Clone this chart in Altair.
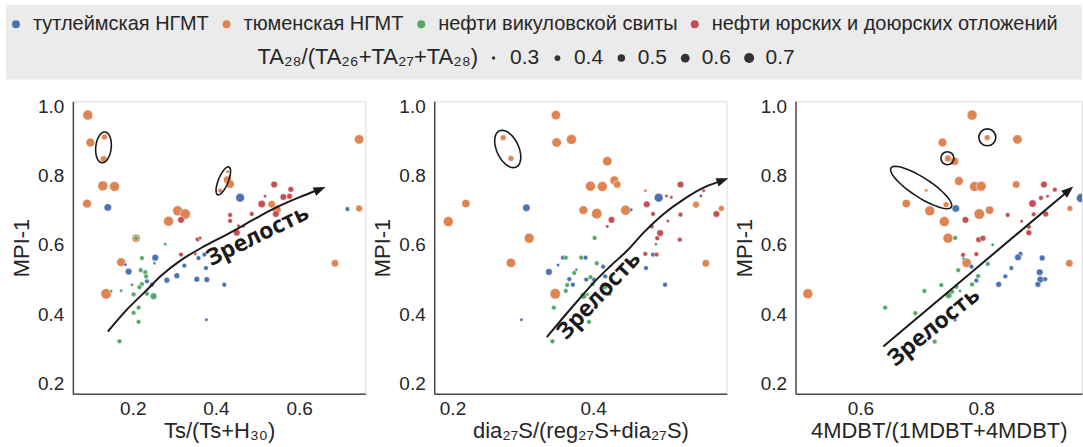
import numpy as np
import pandas as pd
import altair as alt

GROUPS = ["тутлеймская НГМТ", "тюменская НГМТ", "нефти викуловской свиты",
          "нефти юрских и доюрских отложений"]
COLORS = ["#4C72B0", "#DD8452", "#55A868", "#C44E52"]
SIZE_TICKS = [0.3, 0.4, 0.5, 0.6, 0.7]
Y_TICKS = [0.2, 0.4, 0.6, 0.8, 1.0]
SIZE_TITLE = "TA₂₈/(TA₂₆+TA₂₇+TA₂₈)"
Y_TITLE = "MPI-1"
X_TITLES = ["Ts/(Ts+H₃₀)", "dia₂₇S/(reg₂₇S+dia₂₇S)", "4MDBT/(1MDBT+4MDBT)"]
X_TICKS = [[0.2, 0.4, 0.6], [0.2, 0.4], [0.6, 0.8]]
ARROW_TEXT = "Зрелость"

# ---- panel 1: Ts/(Ts+H30)  (x, MPI-1, TA28 ratio)
P1_TYUM = [(0.092, 0.974, 0.7), (0.098, 0.895, 0.6), (0.132, 0.911, 0.4), (0.130, 0.847, 0.45),
           (0.090, 0.719, 0.6), (0.128, 0.770, 0.7), (0.156, 0.768, 0.7), (0.308, 0.698, 0.7),
           (0.326, 0.689, 0.75), (0.286, 0.668, 0.7), (0.208, 0.619, 0.55), (0.172, 0.550, 0.6),
           (0.136, 0.459, 0.75), (0.428, 0.811, 0.3), (0.428, 0.787, 0.55), (0.434, 0.775, 0.55),
           (0.410, 0.756, 0.35), (0.534, 0.717, 0.5), (0.546, 0.701, 0.6), (0.744, 0.904, 0.65),
           (0.744, 0.705, 0.45), (0.686, 0.547, 0.5)]
P1_TUTL = [(0.140, 0.708, 0.5), (0.458, 0.736, 0.6), (0.716, 0.703, 0.35), (0.182, 0.543, 0.3),
           (0.190, 0.523, 0.45), (0.254, 0.563, 0.45), (0.234, 0.495, 0.35), (0.246, 0.485, 0.35),
           (0.282, 0.498, 0.4), (0.306, 0.511, 0.4), (0.324, 0.540, 0.35), (0.354, 0.501, 0.4),
           (0.358, 0.562, 0.35), (0.372, 0.572, 0.35), (0.376, 0.533, 0.35), (0.378, 0.500, 0.4),
           (0.420, 0.485, 0.35), (0.377, 0.384, 0.3)]
P1_VIK = [(0.208, 0.619, 0.35), (0.278, 0.602, 0.3), (0.222, 0.562, 0.35), (0.219, 0.527, 0.35),
          (0.230, 0.521, 0.35), (0.232, 0.509, 0.35), (0.252, 0.547, 0.3), (0.198, 0.485, 0.3),
          (0.222, 0.487, 0.35), (0.216, 0.478, 0.35), (0.202, 0.457, 0.35), (0.234, 0.459, 0.35),
          (0.250, 0.452, 0.45), (0.172, 0.468, 0.3), (0.148, 0.466, 0.3), (0.202, 0.404, 0.35),
          (0.214, 0.419, 0.35), (0.214, 0.378, 0.35), (0.168, 0.322, 0.35)]
P1_JUR = [(0.316, 0.672, 0.45), (0.316, 0.572, 0.35), (0.350, 0.574, 0.3), (0.356, 0.616, 0.35),
          (0.362, 0.620, 0.3), (0.434, 0.686, 0.35), (0.434, 0.669, 0.35), (0.450, 0.635, 0.45),
          (0.454, 0.655, 0.3), (0.466, 0.653, 0.3), (0.486, 0.689, 0.35), (0.510, 0.718, 0.5),
          (0.518, 0.740, 0.3), (0.540, 0.774, 0.45), (0.544, 0.689, 0.45), (0.562, 0.738, 0.45),
          (0.577, 0.740, 0.4), (0.580, 0.760, 0.4)]

# ---- panel 2: dia27S/(reg27S+dia27S)
P2_TYUM = [(0.347, 0.974, 0.65), (0.348, 0.895, 0.65), (0.369, 0.904, 0.7), (0.272, 0.909, 0.4),
           (0.283, 0.849, 0.4), (0.420, 0.841, 0.65), (0.430, 0.786, 0.6), (0.434, 0.774, 0.5),
           (0.396, 0.769, 0.7), (0.413, 0.768, 0.7), (0.386, 0.700, 0.6), (0.405, 0.690, 0.75),
           (0.446, 0.700, 0.7), (0.219, 0.719, 0.55), (0.194, 0.667, 0.7), (0.309, 0.619, 0.7),
           (0.283, 0.548, 0.65), (0.346, 0.459, 0.75), (0.474, 0.756, 0.3), (0.530, 0.811, 0.25),
           (0.546, 0.716, 0.45), (0.582, 0.705, 0.4), (0.560, 0.547, 0.5)]
P2_TUTL = [(0.305, 0.707, 0.5), (0.493, 0.736, 0.6), (0.454, 0.701, 0.3), (0.337, 0.522, 0.45),
           (0.350, 0.542, 0.3), (0.357, 0.563, 0.35), (0.389, 0.563, 0.35), (0.366, 0.501, 0.35),
           (0.371, 0.485, 0.35), (0.390, 0.500, 0.35), (0.401, 0.500, 0.35), (0.414, 0.537, 0.35),
           (0.417, 0.509, 0.35), (0.298, 0.384, 0.3), (0.475, 0.533, 0.35), (0.485, 0.572, 0.35),
           (0.502, 0.485, 0.35)]
P2_VIK = [(0.361, 0.563, 0.35), (0.383, 0.563, 0.35), (0.376, 0.528, 0.3), (0.373, 0.519, 0.35),
          (0.402, 0.620, 0.35), (0.405, 0.547, 0.35), (0.396, 0.507, 0.35), (0.399, 0.487, 0.35),
          (0.363, 0.484, 0.35), (0.361, 0.467, 0.35), (0.344, 0.419, 0.35), (0.386, 0.453, 0.45),
          (0.416, 0.481, 0.45), (0.423, 0.459, 0.35), (0.394, 0.378, 0.35), (0.342, 0.322, 0.35),
          (0.489, 0.602, 0.3), (0.392, 0.457, 0.3)]
P2_JUR = [(0.476, 0.717, 0.45), (0.485, 0.689, 0.35), (0.504, 0.741, 0.3), (0.511, 0.737, 0.3),
          (0.524, 0.774, 0.45), (0.524, 0.687, 0.35), (0.506, 0.669, 0.3), (0.483, 0.653, 0.35),
          (0.495, 0.634, 0.45), (0.491, 0.619, 0.35), (0.523, 0.615, 0.35), (0.474, 0.574, 0.35),
          (0.490, 0.572, 0.35), (0.553, 0.741, 0.3), (0.557, 0.756, 0.3), (0.575, 0.689, 0.45),
          (0.426, 0.672, 0.45), (0.420, 0.653, 0.3)]

# ---- panel 3: 4MDBT/(1MDBT+4MDBT)
P3_TYUM = [(0.785, 0.974, 0.7), (0.810, 0.909, 0.4), (0.860, 0.904, 0.65), (0.736, 0.895, 0.6),
           (0.745, 0.849, 0.45), (0.756, 0.841, 0.55), (0.763, 0.784, 0.6), (0.789, 0.768, 0.7),
           (0.800, 0.769, 0.7), (0.858, 0.774, 0.5), (0.656, 0.811, 0.25), (0.709, 0.757, 0.3),
           (0.742, 0.716, 0.4), (0.676, 0.719, 0.55), (0.715, 0.698, 0.7), (0.739, 0.667, 0.7),
           (0.797, 0.689, 0.75), (0.814, 0.700, 0.55), (0.745, 0.619, 0.7), (0.776, 0.548, 0.65),
           (0.513, 0.459, 0.7), (0.947, 0.705, 0.4), (0.946, 0.547, 0.5)]
P3_TUTL = [(0.758, 0.705, 0.5), (0.965, 0.735, 0.6), (0.784, 0.537, 0.35), (0.865, 0.574, 0.35),
           (0.861, 0.564, 0.45), (0.901, 0.562, 0.4), (0.850, 0.533, 0.35), (0.840, 0.509, 0.35),
           (0.897, 0.521, 0.45), (0.898, 0.500, 0.45), (0.906, 0.501, 0.35), (0.894, 0.486, 0.4),
           (0.829, 0.486, 0.4), (0.792, 0.497, 0.35), (0.757, 0.383, 0.3)]
P3_VIK = [(0.757, 0.620, 0.35), (0.819, 0.600, 0.3), (0.771, 0.560, 0.3), (0.762, 0.527, 0.35),
          (0.811, 0.545, 0.35), (0.795, 0.510, 0.35), (0.785, 0.486, 0.35), (0.734, 0.484, 0.35),
          (0.706, 0.467, 0.35), (0.746, 0.455, 0.45), (0.752, 0.465, 0.35), (0.759, 0.479, 0.35),
          (0.641, 0.419, 0.35), (0.691, 0.403, 0.35), (0.723, 0.321, 0.35), (0.765, 0.467, 0.3)]
P3_JUR = [(0.904, 0.774, 0.45), (0.922, 0.759, 0.35), (0.899, 0.735, 0.35), (0.910, 0.740, 0.3),
          (0.885, 0.719, 0.5), (0.907, 0.689, 0.4), (0.887, 0.688, 0.35), (0.844, 0.686, 0.35),
          (0.867, 0.668, 0.3), (0.879, 0.652, 0.35), (0.879, 0.635, 0.4), (0.774, 0.672, 0.45),
          (0.796, 0.615, 0.4), (0.803, 0.619, 0.4), (0.770, 0.571, 0.35), (0.792, 0.573, 0.35)]

# ---- annotations: maturity arrows (path points in data units)
P1_ARROW_X = [0.140, 0.188, 0.228, 0.268, 0.316, 0.372, 0.428, 0.492, 0.540, 0.604, 0.640]
P1_ARROW_Y = [0.350, 0.416, 0.463, 0.511, 0.556, 0.596, 0.631, 0.674, 0.705, 0.739, 0.756]
P2_ARROW_X = [0.334, 0.358, 0.380, 0.401, 0.425, 0.448, 0.472, 0.500, 0.529, 0.557, 0.576]
P2_ARROW_Y = [0.334, 0.392, 0.444, 0.492, 0.540, 0.583, 0.636, 0.689, 0.732, 0.765, 0.780]
P3_ARROW_X = [0.638, 0.939]
P3_ARROW_Y = [0.307, 0.748]
HEAD_X = [0.650, 0.584, 0.945]
HEAD_Y = [0.760, 0.786, 0.757]
HEAD_ANGLE = [338, 340, 320]
LABEL_X = [0.500, 0.408, 0.7215]
LABEL_Y = [0.626, 0.454, 0.363]
LABEL_ANGLE = [334, 313, 321]
# highlighted samples: (x, y, major px, minor/major, angle)
P1_RINGS = [(0.1296, 0.881, 31, 0.5, 96), (0.4176, 0.7844, 30, 0.33, 292)]
P2_RINGS = [(0.2785, 0.8764, 40, 0.55, 65)]
P3_RINGS = [(0.7006, 0.7653, 72, 0.27, 33), (0.7441, 0.8496, 13, 1.0, 0), (0.8102, 0.9099, 17, 1.0, 0)]

X_DOMAINS = [[0.056, 0.759], [0.174, 0.5896], [0.4926, 0.967]]
Y_DOMAIN = [0.171, 1.014]
WIDTHS = [293, 293, 287]
HEIGHT = 293
GAP = 69

FONT = "Liberation Sans"
INK = "#262626"


def ellipse_path(ratio, n=48):
    pts = []
    for k in range(n):
        t = 2 * np.pi * k / n
        pts.append(f"{np.cos(t):.4f},{ratio * np.sin(t):.4f}")
    return "M" + " L".join(pts) + " Z"


ARROW_HEAD = "M 1,0 L -1,-0.75 L -1,0.75 Z"

color_legend = alt.Legend(orient="none", legendX=-67, legendY=-87, direction="horizontal", title=None,
                          labelFont=FONT, labelFontSize=20, labelColor=INK, labelLimit=365,
                          symbolType="circle", symbolSize=64, symbolStrokeWidth=0,
                          labelOffset=7, columnPadding=7, padding=0)
size_legend = alt.Legend(orient="none", legendX=185, legendY=-54, direction="horizontal",
                         title=SIZE_TITLE, titleOrient="left", titleFont=FONT, titleFontSize=22,
                         titleFontWeight="normal", titleColor=INK, titleLimit=600, titlePadding=4,
                         values=SIZE_TICKS, format=".1f", labelFont=FONT, labelFontSize=21,
                         labelColor=INK, labelOffset=6, columnPadding=7, padding=0,
                         symbolType="circle", symbolFillColor="#333333", symbolStrokeWidth=0)

color_scale = alt.Scale(domain=GROUPS, range=COLORS)
size_scale = alt.Scale(domain=[0.3, 0.7], range=[12, 100], zero=False)
y_scale = alt.Scale(domain=Y_DOMAIN, nice=False, zero=False)


def frame(sets):
    rows = []
    for order, (g, pts) in enumerate(sets):
        for x, y, s in pts:
            rows.append({"group": g, "x": x, "y": y, "s": s, "o": order})
    return pd.DataFrame(rows)


def panel(i, sets, ax, ay, rings, extra=None):
    xs = alt.Scale(domain=X_DOMAINS[i], nice=False, zero=False)
    x_axis = alt.Axis(title=X_TITLES[i], values=X_TICKS[i], format=".1f", grid=False, ticks=False,
                      tickSize=0, labelPadding=6, titlePadding=2, labelFont=FONT, titleFont=FONT,
                      labelFontSize=19, titleFontSize=22, titleFontWeight="normal",
                      labelColor=INK, titleColor=INK, domainColor="#4a4a4a", domainWidth=1.5,
                      labelFlush=False, labelOverlap=False)
    y_axis = alt.Axis(title=Y_TITLE, values=Y_TICKS, format=".1f", grid=False, ticks=False,
                      tickSize=0, labelPadding=9, titlePadding=4, labelFont=FONT, titleFont=FONT,
                      labelFontSize=19, titleFontSize=22, titleFontWeight="normal",
                      labelColor=INK, titleColor=INK, domainColor="#4a4a4a", domainWidth=1.5,
                      labelFlush=False, labelOverlap=False)
    X = alt.X("x:Q", scale=xs, axis=x_axis)
    Y = alt.Y("y:Q", scale=y_scale, axis=y_axis)
    pts = alt.Chart(frame(sets)).mark_circle(opacity=1, stroke="white", strokeWidth=0.5,
                                             clip=True).encode(
        x=X, y=Y,
        color=alt.Color("group:N", scale=color_scale, legend=color_legend),
        size=alt.Size("s:Q", scale=size_scale, legend=size_legend),
        order=alt.Order("o:Q"))
    layers = [] if extra is None else [extra]
    layers.append(pts)
    for (cx, cy, major, ratio, ang) in rings:
        shape = "circle" if ratio >= 1 else ellipse_path(ratio)
        layers.append(alt.Chart(pd.DataFrame({"x": [cx], "y": [cy]})).mark_point(
            shape=shape, size=major * major, angle=ang, filled=False, stroke="#1a1a1a",
            strokeWidth=1.6, opacity=1).encode(x=X, y=Y))
    layers.append(alt.Chart(pd.DataFrame({"x": ax, "y": ay})).mark_line(
        color="#1a1a1a", strokeWidth=2, interpolate="monotone").encode(x=X, y=Y))
    layers.append(alt.Chart(pd.DataFrame({"x": [HEAD_X[i]], "y": [HEAD_Y[i]]})).mark_point(
        shape=ARROW_HEAD, size=144, angle=HEAD_ANGLE[i], filled=True, fill="#1a1a1a",
        strokeWidth=0, opacity=1).encode(x=X, y=Y))
    layers.append(alt.Chart(pd.DataFrame({"x": [LABEL_X[i]], "y": [LABEL_Y[i]]})).mark_text(
        text=ARROW_TEXT, font="Open Sans", fontWeight="bold", fontSize=23, angle=LABEL_ANGLE[i],
        align="center", baseline="middle", color="#1a1a1a").encode(x=X, y=Y))
    return alt.layer(*layers).properties(width=WIDTHS[i], height=HEIGHT)


# grey legend band, placed relative to the first panel's plot area
header = alt.Chart(pd.DataFrame({"k": [0]})).mark_rect(color="#ebebeb").encode(
    x=alt.value(-67), x2=alt.value(1011), y=alt.value(-96.7), y2=alt.value(-21.7))

p1 = panel(0, [(GROUPS[1], P1_TYUM), (GROUPS[0], P1_TUTL), (GROUPS[2], P1_VIK), (GROUPS[3], P1_JUR)],
           P1_ARROW_X, P1_ARROW_Y, P1_RINGS, extra=header)
p2 = panel(1, [(GROUPS[1], P2_TYUM), (GROUPS[0], P2_TUTL), (GROUPS[2], P2_VIK), (GROUPS[3], P2_JUR)],
           P2_ARROW_X, P2_ARROW_Y, P2_RINGS)
p3 = panel(2, [(GROUPS[1], P3_TYUM), (GROUPS[0], P3_TUTL), (GROUPS[2], P3_VIK), (GROUPS[3], P3_JUR)],
           P3_ARROW_X, P3_ARROW_Y, P3_RINGS)

chart = alt.hconcat(p1, p2, p3, spacing=GAP, bounds="flush").resolve_scale(
    color="shared", size="shared").properties(
    padding={"left": 5, "top": 3, "right": 0, "bottom": 0}
).configure_view(stroke=None).configure(font=FONT)

chart.save("out.html", embed_options={"renderer": "svg", "actions": False})
